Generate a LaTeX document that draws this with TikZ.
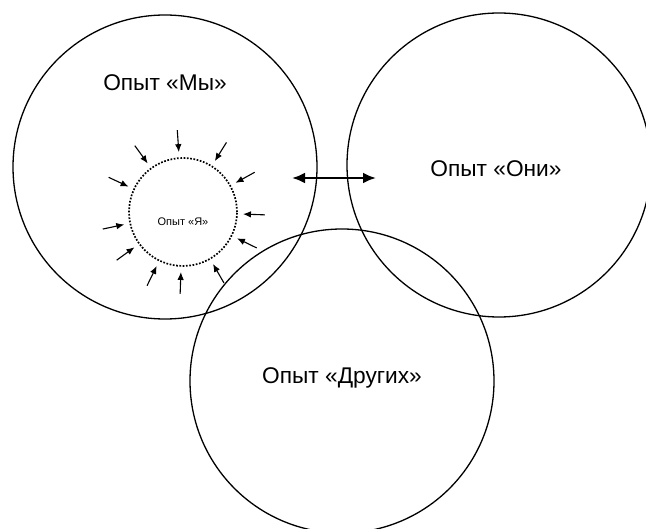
\documentclass[tikz,border=0pt]{standalone}
\usepackage{fontspec}
\setmainfont{Liberation Sans}
\usetikzlibrary{arrows.meta,calc,positioning}

\begin{document}
\begin{tikzpicture}[x=1pt,y=-1pt,
    sphere/.style={circle,draw,line width=1.3pt,minimum size=304pt,inner sep=0pt},
    self/.style={circle,draw,line width=1.7pt,dash pattern=on 1.7pt off 1.6pt,minimum size=108pt,inner sep=0pt},
    biglabel/.style={font=\fontsize{22.7}{27}\selectfont},
    push/.style={-{Latex[length=8pt,width=6.5pt]},line width=1.1pt}]
   \useasboundingbox (0,0) rectangle (646,529);
   \node[sphere] (we)     at (165,167) {};
   \node[sphere] (they)   at (499,165) {};
   \node[sphere] (others) at (342,381) {};
   \node[self]   (me)     at (183,212) {};

   \node[biglabel] (welbl)     at (165,83)  {Опыт «Мы»};
   \node[biglabel] (theylbl)   at (496,169) {Опыт «Они»};
   \node[biglabel] (otherslbl) at (342,378) {Опыт «Других»};
   \node[font=\fontsize{11}{13}\selectfont] (melbl) at (183,222) {Опыт «Я»};

   % exchange between "we" and "they"
   \coordinate (xl) at (292,178);
   \coordinate (xr) at (376,178);
   \draw[{Latex[length=13pt,width=11pt]}-{Latex[length=13pt,width=11pt]},line width=2.4pt] (xl) -- (xr);

   % influences on the self
   \foreach \a in {-94,-58,-29,2,26,60,92,116,144,168,-155,-126}
      \draw[push] ($(me.center)+(\a:82)$) -- ($(me.center)+(\a:60)$);
\end{tikzpicture}
\end{document}
